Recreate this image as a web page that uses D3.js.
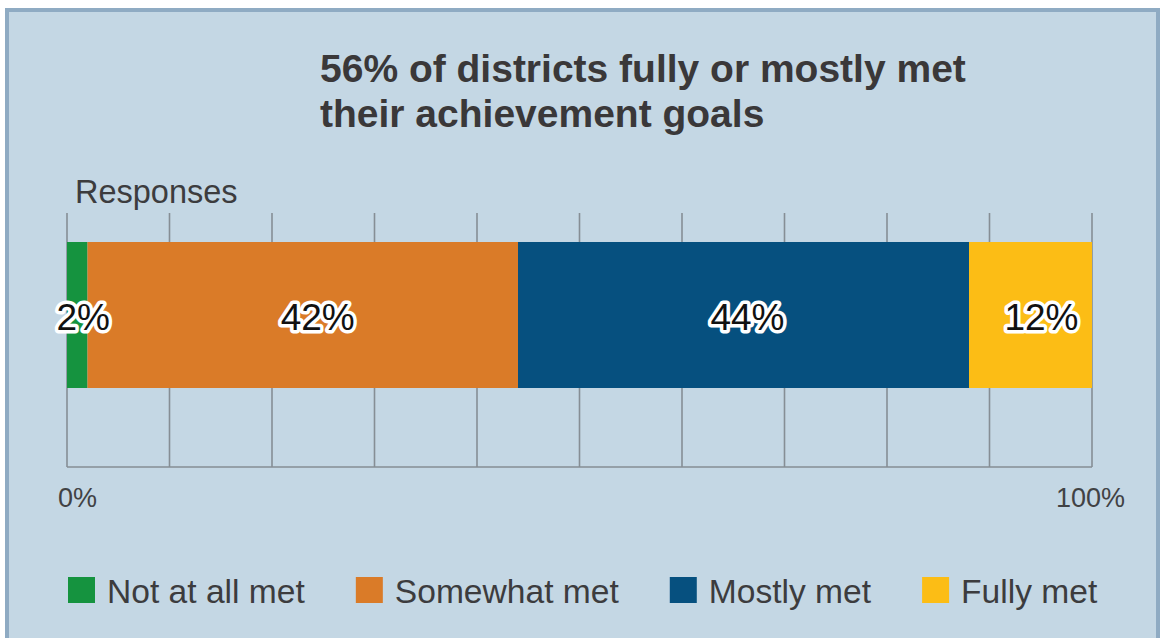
<!DOCTYPE html>
<html>
<head>
<meta charset="utf-8">
<script src="https://cdn.jsdelivr.net/npm/d3@7/dist/d3.min.js"></script>
<style>
  html, body { margin: 0; padding: 0; background: #ffffff; }
  svg { display: block; font-family: "Liberation Sans", Arial, sans-serif; }
</style>
</head>
<body>
<svg id="chart" width="1165" height="638"></svg>
<script>
// Survey responses: share of districts by how well achievement goals were met
const categories = ["Responses"];
const seriesNames = ["Not at all met", "Somewhat met", "Mostly met", "Fully met"];
const seriesValues = [2, 42, 44, 12];
const seriesColors = ["#15933f", "#da7b28", "#06507f", "#fcbd15"];
const tickValues = [0, 100];
const tickLabels = ["0%", "100%"];
const titleLines = ["56% of districts fully or mostly met", "their achievement goals"];

const svg = d3.select("#chart");
const W = 1165, H = 638;

// panel background and frame
svg.append("rect")
  .attr("x", 7).attr("y", 10)
  .attr("width", W - 14).attr("height", H - 6)
  .attr("fill", "#c4d7e4")
  .attr("stroke", "#8fabc3")
  .attr("stroke-width", 4);

// title
const title = svg.append("text")
  .attr("x", 320).attr("y", 82)
  .attr("fill", "#3a3839")
  .attr("font-weight", "bold")
  .attr("font-size", 39);
titleLines.forEach((t, i) => {
  title.append("tspan").attr("x", 320).attr("y", 82 + i * 45).text(t);
});

// scales
const x = d3.scaleLinear().domain([0, 100]).range([67, 1092]);
const y = d3.scaleBand().domain(categories).range([242, 388]).padding(0);
const gridTop = 213, gridBottom = 467;

// vertical gridlines
svg.append("g")
  .selectAll("line")
  .data(d3.range(0, 101, 10))
  .join("line")
  .attr("x1", d => x(d)).attr("x2", d => x(d))
  .attr("y1", gridTop).attr("y2", gridBottom)
  .attr("stroke", "#868e95")
  .attr("stroke-width", 1.6);

// baseline
svg.append("line")
  .attr("x1", x(0)).attr("x2", x(100))
  .attr("y1", gridBottom).attr("y2", gridBottom)
  .attr("stroke", "#868e95")
  .attr("stroke-width", 1.6);

// category label
svg.append("text")
  .attr("x", 75).attr("y", 203)
  .attr("fill", "#3c3c3e")
  .attr("font-size", 32.5)
  .text(categories[0]);

// stacked segments
const stacked = [];
let acc = 0;
seriesValues.forEach((v, i) => {
  stacked.push({ name: seriesNames[i], value: v, x0: acc, x1: acc + v, color: seriesColors[i] });
  acc += v;
});

svg.append("g")
  .selectAll("rect")
  .data(stacked)
  .join("rect")
  .attr("x", d => x(d.x0))
  .attr("y", y(categories[0]))
  .attr("width", d => x(d.x1) - x(d.x0))
  .attr("height", y.bandwidth())
  .attr("fill", d => d.color);

// value labels with white halo
const labelOffsets = [6, 15, 4, 11];
svg.append("g")
  .selectAll("text")
  .data(stacked)
  .join("text")
  .attr("x", (d, i) => (x(d.x0) + x(d.x1)) / 2 + labelOffsets[i])
  .attr("y", 330)
  .attr("text-anchor", "middle")
  .attr("font-size", 37)
  .attr("fill", "#111111")
  .attr("stroke", "#ffffff")
  .attr("stroke-width", 7)
  .attr("stroke-linejoin", "round")
  .attr("paint-order", "stroke")
  .text(d => d.value + "%");

// axis end labels
const axis = d3.axisBottom(x)
  .tickValues(tickValues)
  .tickFormat((d, i) => tickLabels[i])
  .tickSize(0)
  .tickPadding(0);
const axisG = svg.append("g")
  .attr("transform", `translate(0, 487)`)
  .call(axis);
axisG.select(".domain").remove();
axisG.selectAll("text")
  .attr("font-size", 27)
  .attr("font-family", "Liberation Sans, Arial, sans-serif")
  .attr("fill", "#414244")
  .attr("dy", "0.75em")
  .attr("dx", (d, i) => i === 0 ? 10 : -2);

// legend
const legend = svg.append("g");
let lx = 68;
stacked.forEach(d => {
  legend.append("rect")
    .attr("x", lx).attr("y", 577)
    .attr("width", 27).attr("height", 26)
    .attr("fill", d.color);
  const t = legend.append("text")
    .attr("x", lx + 39).attr("y", 603)
    .attr("font-size", 33.6)
    .attr("fill", "#3c3c3e")
    .text(d.name);
  lx += 39 + t.node().getComputedTextLength() + 51;
});
</script>
</body>
</html>
